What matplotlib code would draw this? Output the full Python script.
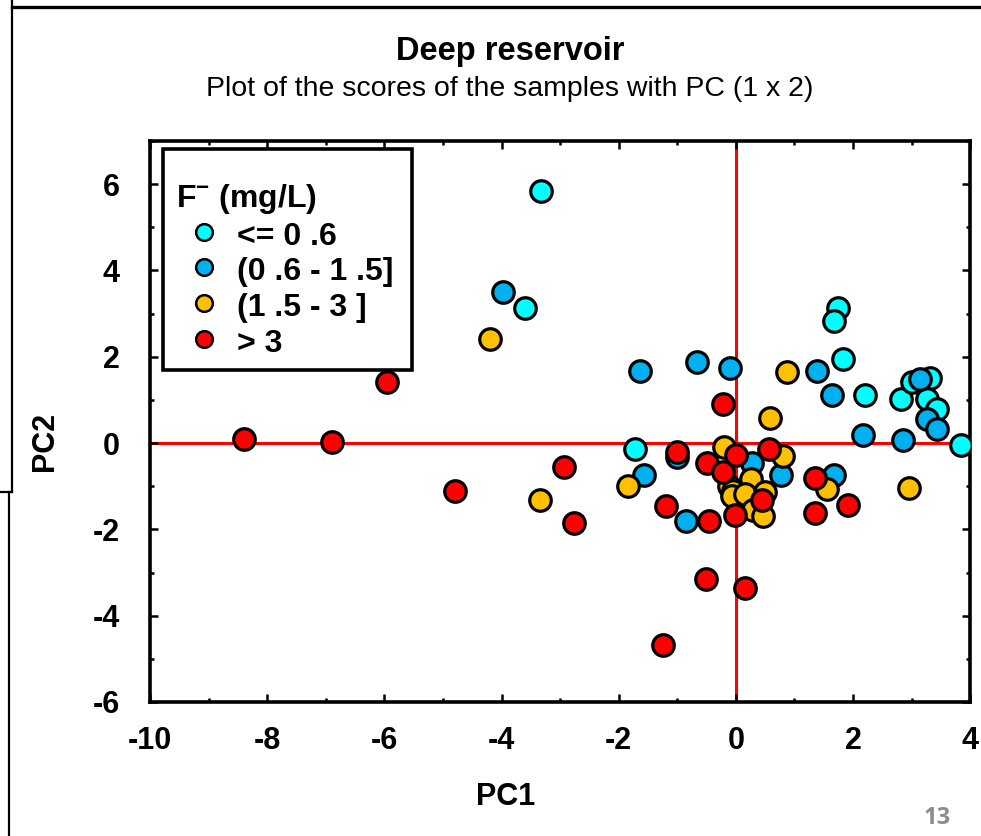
import matplotlib
matplotlib.use("Agg")
import matplotlib.pyplot as plt
from matplotlib.lines import Line2D
from matplotlib.patches import Rectangle
from matplotlib.ticker import MultipleLocator

plt.rcParams['font.family'] = ['Liberation Sans', 'DejaVu Sans']
plt.rcParams['mathtext.fontset'] = 'custom'
plt.rcParams['mathtext.rm'] = 'Liberation Sans'
plt.rcParams['mathtext.bf'] = 'Liberation Sans:bold'
plt.rcParams['axes.unicode_minus'] = False

# scores PC1 / PC2 par classe de fluorure
cyan_x = [-3.33, -3.60, 1.75, 1.68, 1.83, 2.20, 2.82, 3.00, 3.32, 3.26, 3.43, 3.85, -1.73]
cyan_y = [5.84, 3.13, 3.13, 2.83, 1.96, 1.12, 1.03, 1.42, 1.50, 1.03, 0.80, -0.05, -0.14]

blue_x = [-3.97, -1.64, -0.67, -0.10, 1.38, 1.64, 3.15, 3.26, 3.44, 2.17, 2.86,
          -1.00, -1.57, -0.85, 0.27, 0.77, 1.68]
blue_y = [3.50, 1.66, 1.87, 1.73, 1.68, 1.12, 1.48, 0.56, 0.33, 0.19, 0.07,
          -0.33, -0.75, -1.80, -0.47, -0.75, -0.75]

yellow_x = [-4.20, 0.87, 0.58, -1.85, -3.35, -0.20, 0.80, 0.26, -0.12, -0.05,
            -0.07, 0.15, 0.50, 0.29, 0.47, 1.55, 2.96]
yellow_y = [2.41, 1.64, 0.58, -1.00, -1.33, -0.10, -0.30, -0.84, -1.00, -1.10,
            -1.22, -1.19, -1.14, -1.54, -1.69, -1.07, -1.03]

red_x = [-8.39, -6.90, -5.95, -4.80, -2.94, -2.77, -0.22, -1.01, -0.50, -0.22, 0.00,
         0.56, -1.20, -0.46, 0.44, -0.02, 1.35, 1.35, 1.91, -0.51, 0.15, -1.25]
red_y = [0.09, 0.02, 1.42, -1.12, -0.56, -1.85, 0.91, -0.21, -0.47, -0.68, -0.28,
         -0.14, -1.45, -1.80, -1.33, -1.66, -0.82, -1.61, -1.43, -3.15, -3.36, -4.67]

labels = ['<= 0 .6', '(0 .6 - 1 .5]', '(1 .5 - 3 ]', '> 3']
colors = ['#00FFFF', '#00B0F0', '#FFC000', '#FF0000']

fig = plt.figure(figsize=(9.81, 8.36), dpi=100)
ax = fig.add_axes([0.153, 0.1603, 0.836, 0.671])

ax.axvline(0, color='#FF0000', lw=2.2, zorder=1)
ax.axhline(0, color='#FF0000', lw=2.2, zorder=1)

series = [(cyan_x, cyan_y), (blue_x, blue_y), (yellow_x, yellow_y), (red_x, red_y)]
for (xs, ys), c in zip(series, colors):
    ax.scatter(xs, ys, s=240, c=c, edgecolors='black', linewidths=2.3, zorder=3)

ax.set_xlim(-10, 4)
ax.set_ylim(-6, 7)
ax.xaxis.set_major_locator(MultipleLocator(2))
ax.xaxis.set_minor_locator(MultipleLocator(1))
ax.yaxis.set_major_locator(MultipleLocator(2))
ax.yaxis.set_minor_locator(MultipleLocator(1))
ax.set_yticks([-6, -4, -2, 0, 2, 4, 6])
ax.tick_params(which='both', direction='in', top=True, right=True, width=1.8)
ax.tick_params(which='major', length=6)
ax.tick_params(which='minor', length=3)
ax.tick_params(axis='x', which='major', pad=17, labelsize=22)
ax.tick_params(axis='y', which='major', pad=22, labelsize=22)
for lab in ax.get_xticklabels() + ax.get_yticklabels():
    lab.set_fontweight('bold')
for sp in ax.spines.values():
    sp.set_linewidth(2.6)

# cadre de la légende (dessiné à part pour garder les marges du modèle)
ax.add_patch(Rectangle((0.0159, 0.5918), 0.3036, 0.3939, transform=ax.transAxes,
                       facecolor='white', edgecolor='black', lw=2.6, zorder=4,
                       clip_on=False))

handles = [Line2D([], [], ls='none', marker='o', ms=12, mfc=c, mec='black', mew=1.8)
           for c in colors]
leg = ax.legend(handles, labels, title=r'F$^{\mathbf{-}}$ (mg/L)', loc='upper left',
                bbox_to_anchor=(0.032, 0.927), borderaxespad=0, frameon=False,
                alignment='left', borderpad=0,
                prop={'size': 23, 'weight': 'bold'},
                title_fontproperties={'size': 23, 'weight': 'bold'},
                labelspacing=0.08, handleheight=1.1, handletextpad=0.15,
                handlelength=1.75)
leg.set_zorder(5)

fig.text(0.52, 0.938, 'Deep reservoir', ha='center', va='center', fontsize=23.5, fontweight='bold')
fig.text(0.52, 0.894, 'Plot of the scores of the samples with PC (1 x 2)', ha='center',
         va='center', fontsize=20.5)
fig.text(506 / 981, 1 - 797 / 836, 'PC1', ha='center', va='center', fontsize=22, fontweight='bold')
fig.text(45 / 981, 1 - 441 / 836, 'PC2', ha='center', va='center', rotation=90,
         fontsize=22, fontweight='bold')
fig.text(937 / 981, 1 - 818 / 836, '13', ha='center', va='center', fontsize=17,
         fontweight='bold', color='#8C8C8C', family='Open Sans')

# cadre de la diapositive
fig.add_artist(Line2D([12 / 981, 1], [1 - 7 / 836, 1 - 7 / 836], color='black', lw=2.4,
                      transform=fig.transFigure))
fig.add_artist(Line2D([12 / 981, 12 / 981], [1, 1 - 492 / 836], color='black', lw=1.6,
                      transform=fig.transFigure))
fig.add_artist(Line2D([0, 12 / 981], [1 - 492 / 836, 1 - 492 / 836], color='black', lw=1.6,
                      transform=fig.transFigure))
fig.add_artist(Line2D([9 / 981, 9 / 981], [1 - 492 / 836, 0], color='black', lw=1.6,
                      transform=fig.transFigure))

fig.savefig('out.png', dpi=100)
